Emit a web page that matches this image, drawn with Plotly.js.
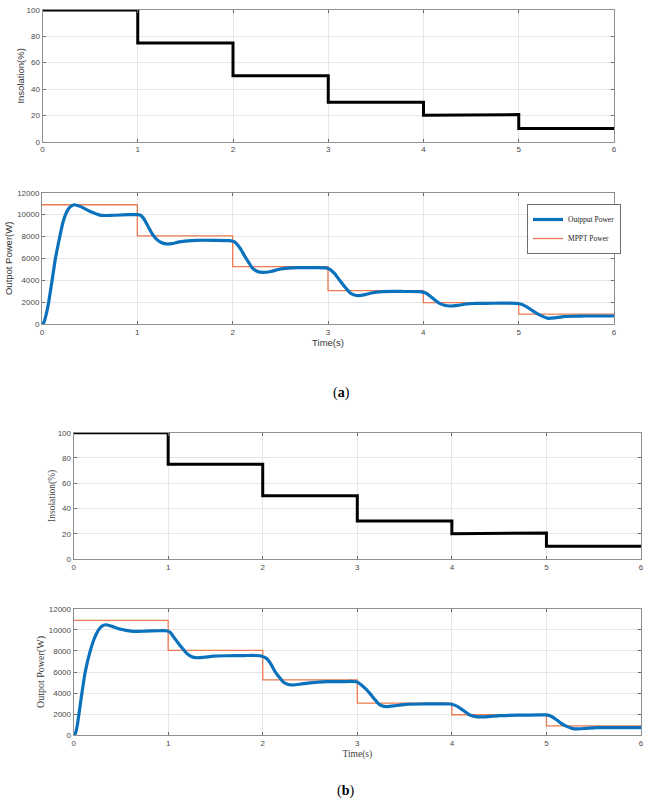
<!DOCTYPE html>
<html>
<head>
<meta charset="utf-8">
<script src="https://cdn.plot.ly/plotly-3.0.1.min.js"></script>
<style>html,body{margin:0;padding:0;background:#fff;}#chart{width:652px;height:805px;}</style>
</head>
<body>
<div id="chart"></div>
<script>
// ---- data ----
const insolTime = [0, 1, 1, 2, 2, 3, 3, 4, 4, 5, 5, 6];
const insolValue = [100, 100, 75, 75, 50, 50, 30, 30, 20, 20.6, 10, 10];

const mpptTime = [0, 1, 2, 3, 4, 5, 6];
const mpptPower = [10900, 8050, 5250, 3050, 1950, 900, 900];

const timeA = [0, 0.02, 0.05, 0.07, 0.106, 0.141, 0.187, 0.22, 0.247, 0.29, 0.336, 0.4, 0.5, 0.62, 0.75, 0.9, 1.0, 1.04, 1.08, 1.12,
  1.16, 1.2, 1.25, 1.3, 1.36, 1.44, 1.53, 1.62, 1.8, 1.97, 2.02, 2.08, 2.13, 2.17, 2.21, 2.26, 2.32, 2.4, 2.49, 2.58,
  2.67, 2.8, 2.98, 3.02, 3.07, 3.12, 3.18, 3.23, 3.27, 3.32, 3.39, 3.47, 3.57, 3.68, 3.8, 3.96, 4.02, 4.07, 4.12, 4.17,
  4.22, 4.28, 4.36, 4.45, 4.55, 4.66, 4.8, 4.98, 5.03, 5.08, 5.14, 5.19, 5.25, 5.31, 5.38, 5.47, 5.58, 5.7, 5.85, 6.0];
const outputA = [0, 150, 1100, 2000, 4000, 6000, 8000, 9300, 10000, 10650, 10900, 10750, 10300, 9930, 9940, 9990, 9990, 9900, 9450, 8800,
  8200, 7750, 7450, 7320, 7340, 7500, 7600, 7650, 7650, 7620, 7500, 6900, 6150, 5600, 5090, 4800, 4720, 4800, 5000, 5100,
  5150, 5150, 5130, 5000, 4600, 4020, 3350, 2860, 2680, 2590, 2680, 2860, 2950, 2985, 2970, 2955, 2850, 2560, 2200, 1890,
  1720, 1645, 1700, 1830, 1880, 1890, 1900, 1890, 1800, 1580, 1250, 975, 700, 518, 560, 670, 710, 730, 730, 730];

const timeB = [0, 0.02, 0.04, 0.056, 0.088, 0.123, 0.176, 0.22, 0.264, 0.3, 0.338, 0.4, 0.5, 0.63, 0.75, 0.9, 0.98, 1.02, 1.06, 1.107,
  1.15, 1.196, 1.25, 1.3, 1.38, 1.48, 1.62, 1.8, 1.97, 2.04, 2.09, 2.13, 2.18, 2.22, 2.27, 2.32, 2.4, 2.5, 2.68, 2.85,
  2.99, 3.04, 3.1, 3.13, 3.18, 3.22, 3.26, 3.31, 3.4, 3.52, 3.7, 3.98, 4.03, 4.09, 4.14, 4.19, 4.24, 4.3, 4.4, 4.51,
  4.7, 5.0, 5.05, 5.11, 5.16, 5.22, 5.27, 5.32, 5.42, 5.53, 5.75, 6.0];
const outputB = [0, 200, 1000, 2000, 4000, 6000, 8000, 9200, 10000, 10350, 10480, 10350, 10050, 9850, 9870, 9910, 9915, 9760, 9300, 8720,
  8250, 7770, 7450, 7350, 7400, 7500, 7540, 7560, 7540, 7290, 6700, 6030, 5450, 5020, 4820, 4770, 4850, 4970, 5080, 5090,
  5080, 4800, 4300, 4000, 3450, 3030, 2800, 2715, 2800, 2940, 2970, 2970, 2860, 2560, 2230, 1930, 1800, 1740, 1790, 1860,
  1910, 1930, 1800, 1450, 1100, 820, 660, 600, 660, 726, 730, 726];

const xTicks = [0, 1, 2, 3, 4, 5, 6];
const insolTicks = [0, 20, 40, 60, 80, 100];
const powerTicks = [0, 2000, 4000, 6000, 8000, 10000, 12000];
const powerTickText = ['0', '2000', '4000', '6000', '8000', '10000', '12000'];
const legendNames = ['Outpput Power', 'MPPT Power'];

// ---- styling ----
const W = 652, H = 805;
const BLUE = '#0a72bd', ORANGE = '#ec7a52';
const SANS = 'Liberation Sans, Arial, sans-serif';
const SERIF = 'Liberation Serif, Times New Roman, serif';
const px = v => v / W;
const py = v => 1 - v / H;

function axisBase(extra) {
  return Object.assign({
    showline: true, linecolor: '#8f8f8f', linewidth: 1, mirror: 'ticks',
    ticks: 'inside', ticklen: 3, tickcolor: '#6a6a6a', tickwidth: 1,
    showgrid: true, gridcolor: '#e6e6e6', gridwidth: 1, zeroline: false,
    tickfont: {family: SANS, size: 8, color: '#4a4a4a'}, fixedrange: true
  }, extra);
}

const traces = [
  {x: insolTime, y: insolValue, xaxis: 'x', yaxis: 'y', mode: 'lines', line: {color: '#000', width: 3}, showlegend: false},
  {x: mpptTime, y: mpptPower, xaxis: 'x2', yaxis: 'y2', mode: 'lines', line: {color: ORANGE, width: 1.3, shape: 'hv'}, name: legendNames[1], legendrank: 2},
  {x: timeA, y: outputA, xaxis: 'x2', yaxis: 'y2', mode: 'lines', line: {color: BLUE, width: 3.2, shape: 'spline', smoothing: 0.6}, name: legendNames[0], legendrank: 1},
  {x: insolTime, y: insolValue, xaxis: 'x3', yaxis: 'y3', mode: 'lines', line: {color: '#000', width: 3}, showlegend: false},
  {x: mpptTime, y: mpptPower, xaxis: 'x4', yaxis: 'y4', mode: 'lines', line: {color: ORANGE, width: 1.3, shape: 'hv'}, showlegend: false},
  {x: timeB, y: outputB, xaxis: 'x4', yaxis: 'y4', mode: 'lines', line: {color: BLUE, width: 3.2, shape: 'spline', smoothing: 0.6}, showlegend: false}
];

const layout = {
  width: W, height: H,
  margin: {l: 0, r: 0, t: 0, b: 0},
  paper_bgcolor: '#fff', plot_bgcolor: '#fff',
  xaxis: axisBase({domain: [px(42.5), px(614)], range: [0, 6], tickvals: xTicks, anchor: 'y'}),
  yaxis: axisBase({domain: [py(141.7), py(10)], range: [0, 100], tickvals: insolTicks, anchor: 'x',
    title: {text: 'Insolation(%)', font: {family: SANS, size: 9.5, color: '#333'}, standoff: 0}}),
  xaxis2: axisBase({domain: [px(42), px(614)], range: [0, 6], tickvals: xTicks, anchor: 'y2',
    title: {text: 'Time(s)', font: {family: SANS, size: 9.5, color: '#333'}, standoff: 3}}),
  yaxis2: axisBase({domain: [py(324), py(192.7)], range: [0, 12000], tickvals: powerTicks, ticktext: powerTickText, anchor: 'x2',
    title: {text: 'Outpot Power(W)', font: {family: SANS, size: 9.5, color: '#333'}, standoff: 2}}),
  xaxis3: axisBase({domain: [px(73.6), px(641)], range: [0, 6], tickvals: xTicks, anchor: 'y3'}),
  yaxis3: axisBase({domain: [py(559), py(432.7)], range: [0, 100], tickvals: insolTicks, anchor: 'x3',
    title: {text: 'Insolation(%)', font: {family: SERIF, size: 9.5, color: '#444'}, standoff: 0}}),
  xaxis4: axisBase({domain: [px(73.6), px(641)], range: [0, 6], tickvals: xTicks, anchor: 'y4',
    title: {text: 'Time(s)', font: {family: SERIF, size: 9.5, color: '#444'}, standoff: 3}}),
  yaxis4: axisBase({domain: [py(735.3), py(608.7)], range: [0, 12000], tickvals: powerTicks, ticktext: powerTickText, anchor: 'x4',
    title: {text: 'Outpot Power(W)', font: {family: SERIF, size: 10, color: '#333'}, standoff: 2}}),
  showlegend: true,
  legend: {
    x: px(527), y: py(204), xanchor: 'left', yanchor: 'top',
    bgcolor: '#fff', bordercolor: '#6e6e6e', borderwidth: 1,
    font: {family: SERIF, size: 7.5, color: '#222'},
    itemwidth: 30, tracegroupgap: 0, traceorder: 'normal'
  },
  annotations: [
    {xref: 'paper', yref: 'paper', x: px(341), y: py(393), text: '(<b>a</b>)', showarrow: false,
      font: {family: SERIF, size: 14, color: '#000'}, xanchor: 'center', yanchor: 'middle'},
    {xref: 'paper', yref: 'paper', x: px(345), y: py(791), text: '(<b>b</b>)', showarrow: false,
      font: {family: SERIF, size: 14, color: '#000'}, xanchor: 'center', yanchor: 'middle'}
  ]
};

Plotly.newPlot('chart', traces, layout, {displayModeBar: false, staticPlot: true});
</script>
</body>
</html>
